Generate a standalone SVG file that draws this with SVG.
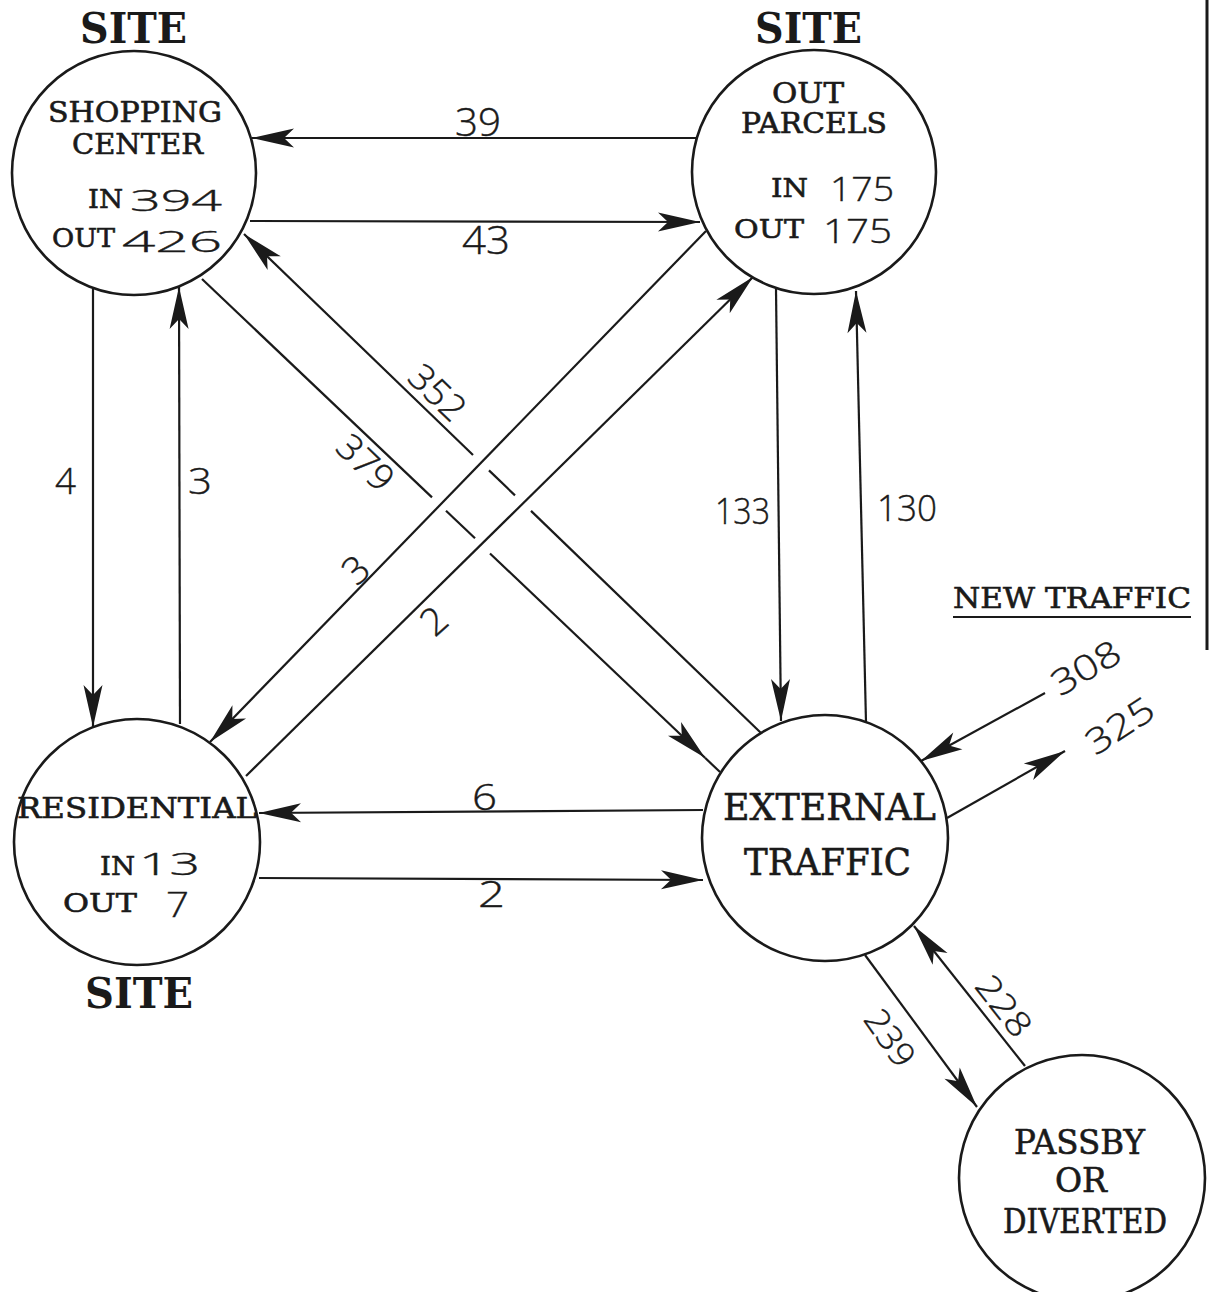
<svg xmlns="http://www.w3.org/2000/svg" width="1211" height="1292" viewBox="0 0 1211 1292">
<style>
.bg{fill:#ffffff}
.node{fill:#ffffff;stroke:#1a1a1a;stroke-width:2.6}
.ln{fill:none;stroke:#1a1a1a;stroke-width:2.2}
.lbl{font-family:"DejaVu Serif","Liberation Serif",serif;fill:#1a1a1a;stroke:#1a1a1a;stroke-width:0.6}
.site{font-family:"DejaVu Serif","Liberation Serif",serif;font-weight:bold;font-size:42px;fill:#1a1a1a}
.num{font-family:"Open Sans","DejaVu Sans",sans-serif;font-weight:300;fill:#1a1a1a;stroke:#1a1a1a;stroke-width:0.4}
</style>
<defs>
<marker id="ah" markerUnits="userSpaceOnUse" viewBox="-48 -12 50 24" markerWidth="50" markerHeight="24" refX="0" refY="0" orient="auto">
<path d="M0,0 L-42,-9.5 L-32,0 L-42,9.5 Z" fill="#1a1a1a"/>
</marker>
</defs>
<rect class="bg" x="0" y="0" width="1211" height="1292"/>

<g id="connectors">
<!-- 39 -->
<line class="ln" x1="697" y1="138" x2="252" y2="138" marker-end="url(#ah)"/>
<text class="num" x="455" y="136" font-size="38" textLength="46" lengthAdjust="spacingAndGlyphs">39</text>
<!-- 43 -->
<line class="ln" x1="250" y1="221" x2="700" y2="222" marker-end="url(#ah)"/>
<text class="num" x="462" y="254" font-size="38" textLength="48" lengthAdjust="spacingAndGlyphs">43</text>
<!-- 4 -->
<line class="ln" x1="93" y1="289" x2="93" y2="727" marker-end="url(#ah)"/>
<text class="num" x="55" y="494" font-size="36" textLength="21" lengthAdjust="spacingAndGlyphs">4</text>
<!-- 3 -->
<line class="ln" x1="180" y1="724" x2="179" y2="287" marker-end="url(#ah)"/>
<text class="num" x="188" y="494" font-size="36" textLength="24" lengthAdjust="spacingAndGlyphs">3</text>
<!-- 133 -->
<line class="ln" x1="776" y1="289" x2="781" y2="721" marker-end="url(#ah)"/>
<text class="num" x="715" y="524" font-size="36" textLength="55" lengthAdjust="spacingAndGlyphs">133</text>
<!-- 130 -->
<line class="ln" x1="866" y1="722" x2="856" y2="291" marker-end="url(#ah)"/>
<text class="num" x="877" y="521" font-size="36" textLength="60" lengthAdjust="spacingAndGlyphs">130</text>
<!-- 6 -->
<line class="ln" x1="703" y1="810" x2="259" y2="813" marker-end="url(#ah)"/>
<text class="num" x="472" y="810" font-size="36" textLength="25" lengthAdjust="spacingAndGlyphs">6</text>
<!-- 2 horizontal -->
<line class="ln" x1="259" y1="878" x2="703" y2="880" marker-end="url(#ah)"/>
<text class="num" x="478" y="907" font-size="36" textLength="27" lengthAdjust="spacingAndGlyphs">2</text>
<!-- 352 : external to shopping (broken at crossings) -->
<line class="ln" x1="761" y1="733" x2="531" y2="510.9"/>
<line class="ln" x1="515" y1="495.4" x2="489" y2="470.4"/>
<line class="ln" x1="473" y1="455" x2="244" y2="234" marker-end="url(#ah)"/>
<text class="num" transform="translate(437,393) rotate(44)" x="0" y="12" font-size="36" text-anchor="middle" textLength="64" lengthAdjust="spacingAndGlyphs">352</text>
<!-- 379 : shopping to external (broken at crossings) -->
<line class="ln" x1="202" y1="279" x2="432" y2="497.4"/>
<line class="ln" x1="446" y1="510.7" x2="475" y2="538.3"/>
<line class="ln" x1="490" y1="553.5" x2="705" y2="757.8" marker-end="url(#ah)"/>
<line class="ln" x1="705" y1="757.8" x2="720" y2="772"/>
<text class="num" transform="translate(365,463) rotate(44)" x="0" y="12" font-size="36" text-anchor="middle" textLength="64" lengthAdjust="spacingAndGlyphs">379</text>
<!-- 3 diagonal: outparcels to residential -->
<line class="ln" x1="706" y1="231" x2="210" y2="742" marker-end="url(#ah)"/>
<text class="num" transform="translate(356,570) rotate(-42)" x="0" y="13" font-size="38" text-anchor="middle">3</text>
<!-- 2 diagonal: residential to outparcels -->
<line class="ln" x1="246" y1="776" x2="753" y2="277" marker-end="url(#ah)"/>
<text class="num" transform="translate(434,621) rotate(-42)" x="0" y="13" font-size="38" text-anchor="middle">2</text>
<!-- 308 -->
<line class="ln" x1="1045" y1="693" x2="921" y2="761" marker-end="url(#ah)"/>
<text class="num" transform="translate(1086,668) rotate(-30)" x="0" y="12" font-size="35" text-anchor="middle" textLength="74" lengthAdjust="spacingAndGlyphs">308</text>
<!-- 325 -->
<line class="ln" x1="947" y1="818" x2="1065" y2="751" marker-end="url(#ah)"/>
<text class="num" transform="translate(1120,726) rotate(-33)" x="0" y="12" font-size="35" text-anchor="middle" textLength="74" lengthAdjust="spacingAndGlyphs">325</text>
<!-- 239 -->
<line class="ln" x1="865" y1="955" x2="977" y2="1107" marker-end="url(#ah)"/>
<text class="num" transform="translate(890,1038) rotate(55)" x="0" y="12" font-size="34" text-anchor="middle" textLength="62" lengthAdjust="spacingAndGlyphs">239</text>
<!-- 228 -->
<line class="ln" x1="1025" y1="1066" x2="914" y2="926" marker-end="url(#ah)"/>
<text class="num" transform="translate(1004,1006) rotate(52)" x="0" y="12" font-size="34" text-anchor="middle" textLength="68" lengthAdjust="spacingAndGlyphs">228</text>
</g>

<g id="node-shopping-center">
<text class="site" x="80" y="43" textLength="107" lengthAdjust="spacingAndGlyphs">SITE</text>
<circle class="node" cx="134" cy="173" r="122"/>
<text class="lbl" x="48" y="122" font-size="27" textLength="174" lengthAdjust="spacingAndGlyphs">SHOPPING</text>
<text class="lbl" x="72" y="154" font-size="27" textLength="131" lengthAdjust="spacingAndGlyphs">CENTER</text>
<text class="lbl" x="88" y="208" font-size="26" textLength="35" lengthAdjust="spacingAndGlyphs">IN</text>
<text class="num" x="130" y="211" font-size="30" textLength="92" lengthAdjust="spacingAndGlyphs">394</text>
<text class="lbl" x="52" y="247" font-size="26" textLength="63" lengthAdjust="spacingAndGlyphs">OUT</text>
<text class="num" x="122" y="252" font-size="30" textLength="100" lengthAdjust="spacingAndGlyphs">426</text>
</g>

<g id="node-out-parcels">
<text class="site" x="755" y="43" textLength="107" lengthAdjust="spacingAndGlyphs">SITE</text>
<circle class="node" cx="814" cy="172" r="122"/>
<text class="lbl" x="772" y="103" font-size="27" textLength="72" lengthAdjust="spacingAndGlyphs">OUT</text>
<text class="lbl" x="741" y="133" font-size="27" textLength="146" lengthAdjust="spacingAndGlyphs">PARCELS</text>
<text class="lbl" x="771" y="197" font-size="26" textLength="37" lengthAdjust="spacingAndGlyphs">IN</text>
<text class="num" x="830" y="201" font-size="33" textLength="64" lengthAdjust="spacingAndGlyphs">175</text>
<text class="lbl" x="734" y="238" font-size="26" textLength="70" lengthAdjust="spacingAndGlyphs">OUT</text>
<text class="num" x="823" y="243" font-size="33" textLength="69" lengthAdjust="spacingAndGlyphs">175</text>
</g>

<g id="node-residential">
<circle class="node" cx="137" cy="842" r="123"/>
<text class="lbl" x="17" y="818" font-size="27" textLength="240" lengthAdjust="spacingAndGlyphs">RESIDENTIAL</text>
<text class="lbl" x="100" y="875" font-size="26" textLength="35" lengthAdjust="spacingAndGlyphs">IN</text>
<text class="num" x="139" y="875" font-size="32" textLength="61" lengthAdjust="spacingAndGlyphs">13</text>
<text class="lbl" x="63" y="912" font-size="26" textLength="74" lengthAdjust="spacingAndGlyphs">OUT</text>
<text class="num" x="166" y="917" font-size="34" textLength="23" lengthAdjust="spacingAndGlyphs">7</text>
<text class="site" x="85" y="1008" textLength="108" lengthAdjust="spacingAndGlyphs">SITE</text>
</g>

<g id="node-external-traffic">
<circle class="node" cx="825" cy="838" r="123"/>
<text class="lbl" x="723" y="820" font-size="37" textLength="213" lengthAdjust="spacingAndGlyphs">EXTERNAL</text>
<text class="lbl" x="744" y="875" font-size="37" textLength="167" lengthAdjust="spacingAndGlyphs">TRAFFIC</text>
</g>

<g id="node-passby">
<circle class="node" cx="1082" cy="1178" r="123"/>
<text class="lbl" x="1014" y="1154" font-size="33" textLength="131" lengthAdjust="spacingAndGlyphs">PASSBY</text>
<text class="lbl" x="1055" y="1192" font-size="33" textLength="52" lengthAdjust="spacingAndGlyphs">OR</text>
<text class="lbl" x="1003" y="1233" font-size="33" textLength="164" lengthAdjust="spacingAndGlyphs">DIVERTED</text>
</g>

<g id="new-traffic-label">
<text class="lbl" x="953" y="608" font-size="27" textLength="238" lengthAdjust="spacingAndGlyphs">NEW TRAFFIC</text>
<line x1="953" y1="617" x2="1191" y2="617" stroke="#1a1a1a" stroke-width="2"/>
</g>

<line id="frame-edge" x1="1207" y1="0" x2="1207" y2="650" stroke="#1a1a1a" stroke-width="3"/>
</svg>
